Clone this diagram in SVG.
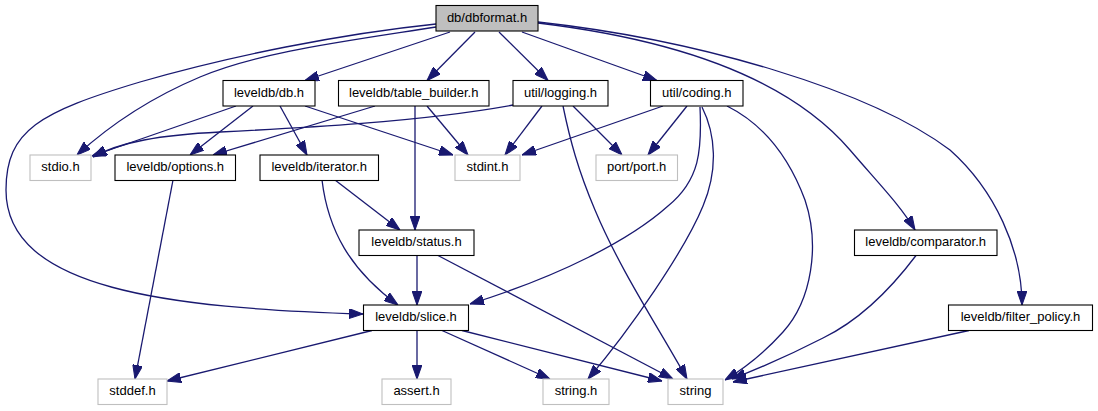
<svg xmlns="http://www.w3.org/2000/svg" width="1098" height="411" viewBox="0 0 1098 411">
<style>
.n rect{fill:#fff;stroke:#000;stroke-width:1.1}
.x rect{fill:#fff;stroke:#bfbfbf;stroke-width:1.1}
.r rect{fill:#bfbfbf;stroke:#000;stroke-width:1.1}
text{font-family:"Liberation Sans",Arial,Helvetica,sans-serif;font-size:13px;fill:#000;text-anchor:middle}
#edges path{fill:none;stroke:#191970;stroke-width:1.3;marker-end:url(#a)}
</style>
<defs>
<marker id="a" markerUnits="userSpaceOnUse" markerWidth="14" markerHeight="10" refX="13.3" refY="4.67" orient="auto" viewBox="0 0 13.3 9.34">
<path d="M0,0 L13.3,4.67 L0,9.34 z" fill="#191970" stroke="#191970" stroke-width="1"/>
</marker>
</defs>
<rect width="1098" height="411" fill="#fff"/>
<g id="edges">
<path d="M450,32 L305,80.5"/>
<path d="M475,32 L427,80.5"/>
<path d="M499,32 L548,80.5"/>
<path d="M522,32 L657,80.5"/>
<path d="M436,27 C340,42 260,52 200,77 C150,98 110,125 77,155"/>
<path d="M436,24 C340,34 230,56 140,82 C40,112 6,130 6,190 C6,290 170,308 363,314"/>
<path d="M538,23 C680,40 790,80 850,150 C880,185 900,205 915,230"/>
<path d="M538,22 C700,40 870,90 950,150 C995,190 1022,250 1022,305"/>
<path d="M236,106 L92,156"/>
<path d="M253,106 L190,155"/>
<path d="M280,106 L307,155"/>
<path d="M305,106 L453,155"/>
<path d="M375,106 L213,155"/>
<path d="M427,106 L468,155"/>
<path d="M415,106 L415,230"/>
<path d="M513,105 C420,122 300,128 220,132 C160,135 120,142 93,157"/>
<path d="M542,106 L505,155"/>
<path d="M573,106 L622,155"/>
<path d="M563,106 C570,140 578,170 595,210 C620,270 660,330 687,379"/>
<path d="M663,106 L522,155"/>
<path d="M687,106 L648,155"/>
<path d="M700,107 C702,150 700,180 668,206 C630,240 560,276 470,304"/>
<path d="M702,107 C716,135 718,170 703,206 C685,250 630,330 588,379"/>
<path d="M727,106 C765,125 790,160 805,200 C820,245 812,300 783,332 C765,352 745,368 725,380"/>
<path d="M173,180 L135,379"/>
<path d="M335,180 L400,230"/>
<path d="M322,180 C328,230 350,270 398,305"/>
<path d="M417,255.5 L417,305"/>
<path d="M438,255.5 L673,379"/>
<path d="M372,330.5 L167,381"/>
<path d="M417,330.5 L417,379"/>
<path d="M442,330.5 L550,379"/>
<path d="M462,330.5 L662,381"/>
<path d="M916,255.5 C890,290 860,320 823,338 C790,355 760,368 732,379"/>
<path d="M969,330.5 L733,382"/>
</g>
<g id="dbformat" class="r"><rect x="436" y="5.5" width="102" height="25.5"/><text x="487" y="22">db/dbformat.h</text></g>
<g id="db" class="n"><rect x="223" y="80.5" width="92" height="25.5"/><text x="269" y="96.7">leveldb/db.h</text></g>
<g id="table_builder" class="n"><rect x="338.5" y="80.5" width="150.5" height="25.5"/><text x="413.7" y="96.7">leveldb/table_builder.h</text></g>
<g id="logging" class="n"><rect x="513" y="80.5" width="95" height="25.5"/><text x="560.5" y="96.7">util/logging.h</text></g>
<g id="coding" class="n"><rect x="650.5" y="80.5" width="92.5" height="25.5"/><text x="696.7" y="96.7">util/coding.h</text></g>
<g id="stdio" class="x"><rect x="30" y="155" width="61" height="25.5"/><text x="60.5" y="171.2">stdio.h</text></g>
<g id="options" class="n"><rect x="115" y="155" width="120.5" height="25.5"/><text x="175.2" y="171.2">leveldb/options.h</text></g>
<g id="iterator" class="n"><rect x="260" y="155" width="118.5" height="25.5"/><text x="319.2" y="171.2">leveldb/iterator.h</text></g>
<g id="stdint" class="x"><rect x="455" y="155" width="65" height="25.5"/><text x="487.5" y="171.2">stdint.h</text></g>
<g id="port" class="x"><rect x="596" y="155" width="81.5" height="25.5"/><text x="636.7" y="171.2">port/port.h</text></g>
<g id="status" class="n"><rect x="359" y="230" width="115" height="25.5"/><text x="416.5" y="246.2">leveldb/status.h</text></g>
<g id="comparator" class="n"><rect x="854.5" y="230" width="142.5" height="25.5"/><text x="925.7" y="246.2">leveldb/comparator.h</text></g>
<g id="slice" class="n"><rect x="363.5" y="305" width="105" height="25.5"/><text x="416" y="321.2">leveldb/slice.h</text></g>
<g id="filter_policy" class="n"><rect x="948.5" y="305" width="144" height="25.5"/><text x="1020.5" y="321.2">leveldb/filter_policy.h</text></g>
<g id="stddef" class="x"><rect x="98" y="379" width="69" height="25.5"/><text x="132.5" y="395.2">stddef.h</text></g>
<g id="assert" class="x"><rect x="382" y="379" width="69" height="25.5"/><text x="416.5" y="395.2">assert.h</text></g>
<g id="string_h" class="x"><rect x="543" y="379" width="66" height="25.5"/><text x="576" y="395.2">string.h</text></g>
<g id="string" class="x"><rect x="668" y="379" width="55" height="25.5"/><text x="695.5" y="395.2">string</text></g>
</svg>
